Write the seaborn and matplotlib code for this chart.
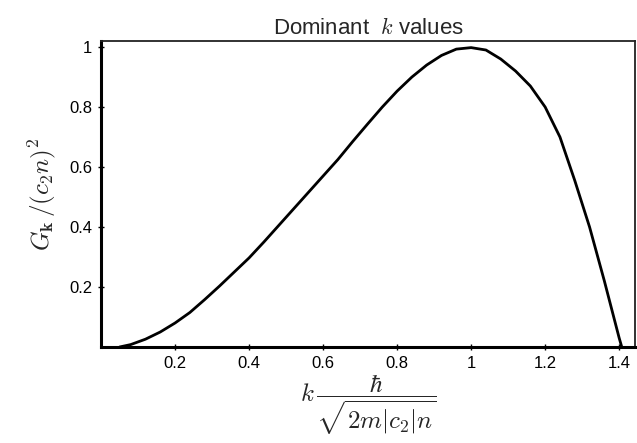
import matplotlib
matplotlib.use("Agg")
import matplotlib.pyplot as plt
import seaborn as sns
import pandas as pd

# Dimensionless wavenumber and normalised growth rate along the curve
k_values = [0.05, 0.08, 0.12, 0.16, 0.20, 0.24, 0.28, 0.32, 0.36, 0.40,
            0.44, 0.48, 0.52, 0.56, 0.60, 0.64, 0.68, 0.72, 0.76, 0.80,
            0.84, 0.88, 0.92, 0.96, 1.00, 1.04, 1.08, 1.12, 1.16, 1.20,
            1.24, 1.28, 1.32, 1.36, 1.40, 1.407]
g_values = [0.0, 0.008, 0.026, 0.05, 0.08, 0.115, 0.158, 0.203, 0.25, 0.297,
            0.35, 0.405, 0.46, 0.515, 0.57, 0.625, 0.685, 0.743, 0.8, 0.853,
            0.9, 0.94, 0.972, 0.993, 0.998, 0.99, 0.96, 0.92, 0.87, 0.80,
            0.70, 0.555, 0.40, 0.22, 0.03, 0.0]

x_ticks = [0.2, 0.4, 0.6, 0.8, 1.0, 1.2, 1.4]
x_tick_labels = ["0.2", "0.4", "0.6", "0.8", "1", "1.2", "1.4"]
y_ticks = [0.2, 0.4, 0.6, 0.8, 1.0]
y_tick_labels = ["0.2", "0.4", "0.6", "0.8", "1"]

df = pd.DataFrame({"k": k_values, "G": g_values})

sns.set_theme(style="white")
plt.rcParams["font.family"] = ["Liberation Sans", "DejaVu Sans"]
plt.rcParams["mathtext.fontset"] = "cm"

fig = plt.figure(figsize=(6.37, 4.43), dpi=100)
ax = fig.add_axes([0.1586, 0.2167, 0.8384, 0.6907])

sns.lineplot(data=df, x="k", y="G", ax=ax, color="black", linewidth=2.0)

ax.set_xlim(0, 1.443)
ax.set_ylim(0, 1.02)
ax.set_xticks(x_ticks)
ax.set_xticklabels(x_tick_labels)
ax.set_yticks(y_ticks)
ax.set_yticklabels(y_tick_labels)
ax.tick_params(axis="both", direction="inout", length=5, width=1,
               colors="black", labelsize=12, pad=4)
ax.tick_params(axis="y", left=True)
ax.tick_params(axis="x", bottom=True)

for side in ["left", "bottom"]:
    ax.spines[side].set_linewidth(2.2)
    ax.spines[side].set_color("black")
for side in ["top", "right"]:
    ax.spines[side].set_linewidth(1.3)
    ax.spines[side].set_color("#222222")

ax.set_title(r"Dominant  $k$ values", fontsize=16, pad=5)
ax.set_xlabel(r"$k\,\dfrac{\hbar}{\sqrt{2m|c_2|n}}$", fontsize=18, labelpad=1)
ax.set_ylabel(r"$G_{\mathbf{k}}\,/(c_2 n)^2$", fontsize=18, labelpad=8)

fig.savefig("out.png", dpi=100)
